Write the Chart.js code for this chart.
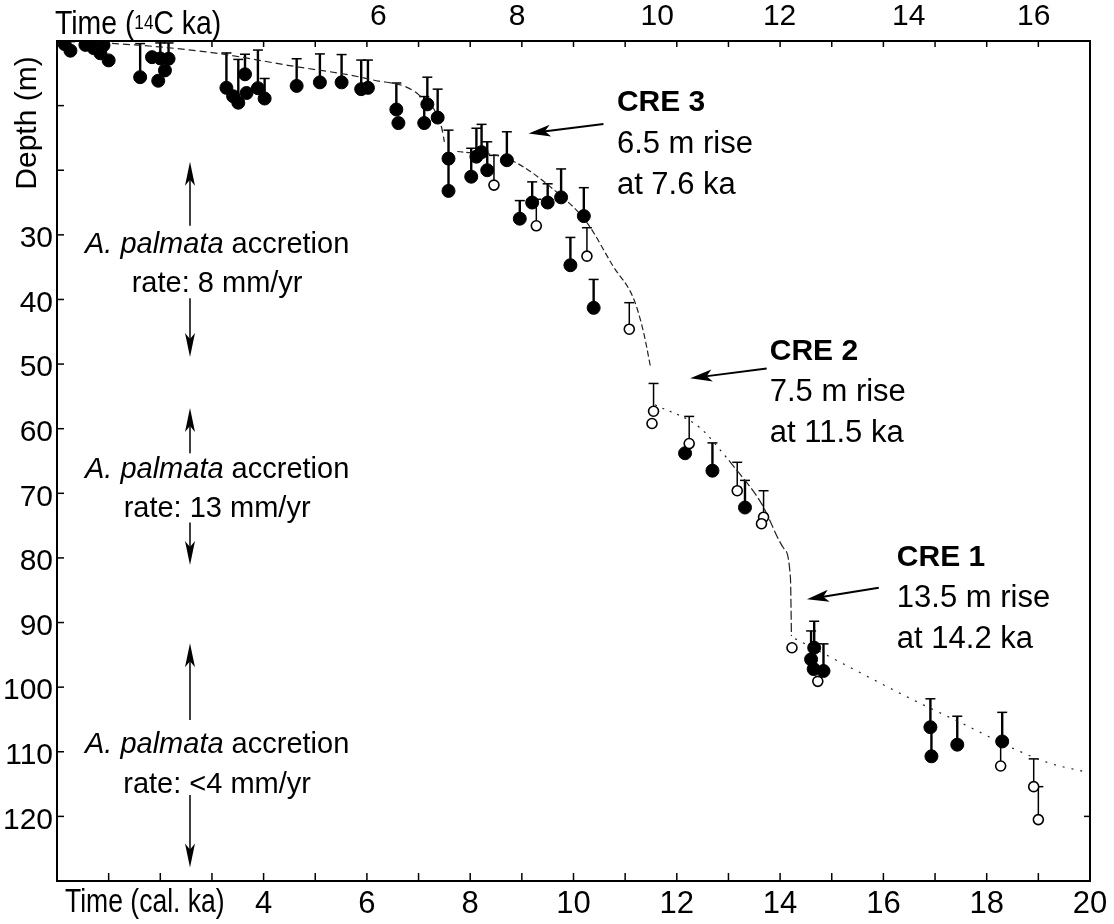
<!DOCTYPE html>
<html>
<head>
<meta charset="utf-8">
<script src="https://cdn.jsdelivr.net/npm/chart.js@4.4.1/dist/chart.umd.min.js"></script>
<style>
  html, body { margin: 0; padding: 0; background: #fff; }
  canvas { display: block; }
</style>
</head>
<body>
<canvas id="grafico" width="1114" height="924"></canvas>
<script>
// --- DADOS (idade cal. ka / profundidade m) ---
// corais preenchidos
const filledAge   = [0.15, 0.26, 0.55, 0.71, 0.84, 1.00, 0.90, 1.61, 1.84, 2.00, 2.16, 2.09, 1.96, 3.28, 3.41, 3.51, 3.64, 3.67, 3.89, 4.02,
                     4.64, 5.09, 5.51, 5.89, 6.02, 6.57, 6.61, 7.11, 7.17, 7.37, 7.58, 7.58, 8.02, 8.12, 8.22, 8.33, 8.71, 8.96, 9.20, 9.50,
                     9.76, 10.20, 9.94, 10.39, 12.16, 12.69, 13.32, 14.66, 14.60, 14.65, 14.84, 16.91, 16.93, 17.43, 18.30];
const filledDepth = [0.5, 1.5, 0.6, 1.1, 1.9, 3.0, 0.65, 5.6, 2.5, 2.7, 2.75, 4.55, 6.15, 7.25, 8.55, 9.55, 5.15, 8.05, 7.3, 8.9,
                     6.95, 6.4, 6.4, 7.45, 7.25, 10.6, 12.7, 12.7, 9.8, 11.85, 18.2, 23.2, 21.0, 17.9, 17.2, 20.0, 18.45, 27.5, 25.0, 25.0,
                     24.2, 27.1, 34.7, 41.3, 63.8, 66.5, 72.2, 93.9, 95.7, 97.2, 97.5, 106.2, 110.7, 108.9, 108.4];
const filledTop   = [null, null, null, null, null, null, null, 0.4, null, 0.3, 0.3, null, null, 1.85, null, 2.85, 2.05, null, 1.4, 5.8,
                     2.75, 2.0, 2.1, 2.95, 2.95, 6.5, null, 8.6, 5.6, 7.45, 13.8, 18.2, 16.6, 13.5, 12.9, 15.6, 14.05, 24.7, 21.8, 22.1,
                     19.8, 22.7, 30.4, 36.9, null, 62.2, 68.0, 89.8, 91.3, null, 93.3, 101.8, 106.2, 104.5, 103.9];
// corais vazados
const openAge   = [8.46, 9.28, 10.26, 11.08, 11.55, 11.52, 12.24, 13.17, 13.68, 13.64, 14.23, 14.73, 18.27, 18.91, 19.00];
const openDepth = [22.3, 28.6, 33.3, 44.6, 57.3, 59.2, 62.3, 69.6, 73.7, 74.7, 93.9, 99.1, 112.2, 115.4, 120.5];
const openTop   = [17.7, 24.5, 28.9, 40.5, 53.0, null, 58.1, 65.2, 69.6, null, null, null, 108.4, 111.1, 115.4];

// curva do nivel do mar, em trechos
const curveAAge = [0, 1.5, 3.0, 4.5, 6.1, 7.0, 7.44, 7.5];
const curveADepth = [0, 0.6, 1.8, 3.8, 6.0, 8.3, 13.2, 15.6];
const curveBAge = [7.75, 8.72, 9.75, 10.26, 10.77, 11.17, 11.36, 11.49];
const curveBDepth = [17.1, 18.2, 23.9, 28.1, 34.9, 40.0, 45.2, 50.4];
const curveCAge = [11.58, 12.44, 13.01];
const curveCDepth = [56.3, 59.8, 64.9];
const curveDAge = [13.01, 13.64, 14.07, 14.2, 14.22];
const curveDDepth = [64.9, 71.6, 78.5, 83.1, 92.1];
const curveEAge = [14.29, 16.56, 17.6, 18.49, 19.23, 19.85];
const curveEDepth = [92.5, 101.9, 105.9, 109.4, 111.8, 113.0];

// eixo superior (14C ka) e sua posicao em cal. ka
const c14Labels = ['6', '8', '10', '12', '14', '16'];
const c14CalAge = [6.22, 8.91, 11.62, 13.99, 16.49, 18.91];

// anotacoes CRE
const creTitle = ['CRE 3', 'CRE 2', 'CRE 1'];
const creRise = ['6.5 m rise', '7.5 m rise', '13.5 m rise'];
const creAt = ['at 7.6 ka', 'at 11.5 ka', 'at 14.2 ka'];
const creTextAge = [10.84, 13.80, 16.26];
const creTextDepth = [9.6, 48.1, 80.0];
const creArrowFrom = [[10.58, 12.85], [13.74, 50.7], [15.91, 84.6]];
const creArrowTo = [[9.13, 14.3], [12.26, 52.2], [14.52, 86.4]];

// anotacoes de acrecao (A. palmata)
const rateText = ['8 mm/yr', '13 mm/yr', '<4 mm/yr'];
const rateArrowAge = 2.575;
const rateTextAge = 3.10;
const rateUpTip = [18.7, 56.8, 93.2];
const rateUpTail = [28.6, 63.8, 105.1];
const rateLine1 = [31.6, 66.4, 109.0];
const rateLine2 = [37.6, 72.4, 115.2];
const rateDownTail = [39.8, 74.5, 116.7];
const rateDownTip = [48.9, 81.1, 127.9];

const FONTE = '"Liberation Sans", Arial, Helvetica, sans-serif';

// --- FUNCOES AUXILIARES ---
const pares = (xs, ys) => xs.map((v, i) => ({ x: v, y: ys[i] }));

function desenharBarras(ctx, sx, sy, age, depth, top, lw) {
    ctx.strokeStyle = '#000';
    age.forEach((t, i) => {
        if (top[i] == null) return;
        const px = sx.getPixelForValue(t);
        const p0 = sy.getPixelForValue(depth[i]);
        const p1 = sy.getPixelForValue(top[i]);
        ctx.lineWidth = lw;
        ctx.beginPath(); ctx.moveTo(px, p0); ctx.lineTo(px, p1); ctx.stroke();
        ctx.lineWidth = 1.5;
        ctx.beginPath(); ctx.moveTo(px - 5, p1); ctx.lineTo(px + 5, p1); ctx.stroke();
    });
}

function seta(ctx, x0, y0, x1, y1, lw, hl, hw) {
    const ang = Math.atan2(y1 - y0, x1 - x0);
    const c = Math.cos(ang), s = Math.sin(ang);
    const bx = x1 - hl * c, by = y1 - hl * s;
    ctx.lineWidth = lw;
    ctx.beginPath(); ctx.moveTo(x0, y0); ctx.lineTo(x1 - hl * 0.6 * c, y1 - hl * 0.6 * s); ctx.stroke();
    ctx.beginPath();
    ctx.moveTo(x1, y1);
    ctx.lineTo(bx + hw * s, by - hw * c);
    ctx.lineTo(x1 - hl * 0.75 * c, y1 - hl * 0.75 * s);
    ctx.lineTo(bx - hw * s, by + hw * c);
    ctx.closePath(); ctx.fill();
}

// --- PLUGIN DE DESENHO (barras, moldura, textos) ---
const pluginDesenho = {
    id: 'desenho',
    beforeDatasetsDraw(chart) {
        const { ctx, chartArea: a, scales: { x, y } } = chart;
        ctx.save();
        ctx.beginPath(); ctx.rect(a.left, a.top, a.right - a.left, a.bottom - a.top); ctx.clip();
        desenharBarras(ctx, x, y, filledAge, filledDepth, filledTop, 2.4);
        desenharBarras(ctx, x, y, openAge, openDepth, openTop, 1.5);
        ctx.restore();
    },
    afterDraw(chart) {
        const { ctx, chartArea: a, scales: { x, y } } = chart;
        ctx.save();
        ctx.strokeStyle = '#000';
        ctx.fillStyle = '#000';

        // moldura
        ctx.lineWidth = 2;
        ctx.strokeRect(a.left, a.top, a.right - a.left, a.bottom - a.top);

        // ticks para dentro
        ctx.lineWidth = 1.5;
        for (let t = 1; t < 20; t++) {
            const px = x.getPixelForValue(t);
            ctx.beginPath(); ctx.moveTo(px, a.bottom); ctx.lineTo(px, a.bottom - 8); ctx.stroke();
            ctx.beginPath(); ctx.moveTo(px, a.top); ctx.lineTo(px, a.top + 6); ctx.stroke();
        }
        for (let d = 10; d <= 120; d += 10) {
            const py = y.getPixelForValue(d);
            ctx.beginPath(); ctx.moveTo(a.left, py); ctx.lineTo(a.left + 7, py); ctx.stroke();
        }
        const p120 = y.getPixelForValue(120);
        ctx.beginPath(); ctx.moveTo(a.right, p120); ctx.lineTo(a.right - 6, p120); ctx.stroke();

        // titulos dos eixos
        ctx.textBaseline = 'middle';
        ctx.textAlign = 'left';
        ctx.save();
        ctx.translate(a.left - 2, a.top - 16);
        ctx.scale(0.86, 1);
        ctx.font = `33px ${FONTE}`;
        ctx.fillText('Time (', 0, 0);
        let w = ctx.measureText('Time (').width;
        ctx.font = `20px ${FONTE}`;
        ctx.fillText('14', w, -2);
        w += ctx.measureText('14').width;
        ctx.font = `33px ${FONTE}`;
        ctx.fillText('C ka)', w, 0);
        ctx.restore();

        ctx.save();
        ctx.translate(a.left + 8, a.bottom + 22);
        ctx.scale(0.78, 1);
        ctx.font = `34px ${FONTE}`;
        ctx.fillText('Time (cal. ka)', 0, 0);
        ctx.restore();

        ctx.save();
        ctx.translate(28, a.top + 82);
        ctx.rotate(-Math.PI / 2);
        ctx.textAlign = 'center';
        ctx.font = `30px ${FONTE}`;
        ctx.fillText('Depth (m)', 0, 0);
        ctx.restore();

        // CRE
        creTitle.forEach((tit, i) => {
            const px = x.getPixelForValue(creTextAge[i]);
            const py = y.getPixelForValue(creTextDepth[i]);
            ctx.font = `bold 30px ${FONTE}`;
            ctx.fillText(tit, px, py);
            ctx.font = `31px ${FONTE}`;
            ctx.fillText(creRise[i], px, py + 41);
            ctx.fillText(creAt[i], px, py + 82);
            seta(ctx, x.getPixelForValue(creArrowFrom[i][0]), y.getPixelForValue(creArrowFrom[i][1]),
                 x.getPixelForValue(creArrowTo[i][0]), y.getPixelForValue(creArrowTo[i][1]), 2, 22, 6);
        });

        // acrecao A. palmata
        const ax = x.getPixelForValue(rateArrowAge);
        const tx = x.getPixelForValue(rateTextAge);
        rateText.forEach((txt, i) => {
            seta(ctx, ax, y.getPixelForValue(rateUpTail[i]), ax, y.getPixelForValue(rateUpTip[i]), 1.5, 24, 5);
            seta(ctx, ax, y.getPixelForValue(rateDownTail[i]), ax, y.getPixelForValue(rateDownTip[i]), 1.5, 24, 5);
            const fi = `italic 29px ${FONTE}`, fn = `29px ${FONTE}`;
            ctx.font = fi; const w1 = ctx.measureText('A. palmata').width;
            ctx.font = fn; const w2 = ctx.measureText(' accretion').width;
            const x0 = tx - (w1 + w2) / 2;
            const y1 = y.getPixelForValue(rateLine1[i]);
            ctx.textAlign = 'left';
            ctx.font = fi; ctx.fillText('A. palmata', x0, y1);
            ctx.font = fn; ctx.fillText(' accretion', x0 + w1, y1);
            ctx.textAlign = 'center';
            ctx.fillText('rate: ' + txt, tx, y.getPixelForValue(rateLine2[i]));
            ctx.textAlign = 'left';
        });
        ctx.restore();
    }
};

// --- GRAFICO ---
const linhaCurva = (xs, ys, dash) => ({
    data: pares(xs, ys), showLine: true, pointRadius: 0, borderColor: '#222', borderWidth: 1.2,
    borderDash: dash, cubicInterpolationMode: 'monotone', fill: false
});

const grafico = new Chart(document.getElementById('grafico'), {
    type: 'scatter',
    data: {
        datasets: [
            { label: 'open', data: pares(openAge, openDepth), pointRadius: 5, pointBackgroundColor: '#fff',
              pointBorderColor: '#000', pointBorderWidth: 1.6 },
            { label: 'filled', data: pares(filledAge, filledDepth), pointRadius: 6.5, pointBackgroundColor: '#000',
              pointBorderColor: '#000', pointBorderWidth: 1 },
            linhaCurva(curveAAge, curveADepth, [7, 4]),
            linhaCurva(curveBAge, curveBDepth, [6, 3]),
            linhaCurva(curveCAge, curveCDepth, [2, 6]),
            linhaCurva(curveDAge, curveDDepth, [9, 3]),
            linhaCurva(curveEAge, curveEDepth, [2, 7])
        ]
    },
    options: {
        responsive: false, animation: false, devicePixelRatio: 1, events: [],
        layout: { padding: { left: 0, right: 24, top: 0, bottom: 0 } },
        plugins: { legend: { display: false }, tooltip: { enabled: false } },
        scales: {
            x: {
                type: 'linear', position: 'bottom', min: 0, max: 20,
                grid: { display: false, drawTicks: false }, border: { display: false },
                ticks: { stepSize: 1, autoSkip: false, maxRotation: 0, padding: 5, color: '#000',
                         font: { family: FONTE, size: 31 },
                         callback: v => (v >= 4 && v % 2 === 0) ? String(v) : '' },
                afterFit: s => { s.height = 43; }
            },
            x2: {
                type: 'linear', position: 'top', min: 0, max: 20,
                grid: { display: false, drawTicks: false }, border: { display: false },
                afterBuildTicks: s => { s.ticks = c14CalAge.map(v => ({ value: v })); },
                ticks: { autoSkip: false, maxRotation: 0, padding: 6, color: '#000',
                         font: { family: FONTE, size: 30 },
                         callback: (v, i) => c14Labels[i] },
                afterFit: s => { s.height = 41; }
            },
            y: {
                type: 'linear', position: 'left', min: 0, max: 130, reverse: true,
                grid: { display: false, drawTicks: false }, border: { display: false },
                ticks: { stepSize: 10, autoSkip: false, padding: 4, labelOffset: 4, color: '#000',
                         font: { family: FONTE, size: 30 },
                         callback: v => (v >= 30 && v <= 120) ? String(v) : '' },
                afterFit: s => { s.width = 57; }
            }
        }
    },
    plugins: [pluginDesenho]
});
</script>
</body>
</html>
